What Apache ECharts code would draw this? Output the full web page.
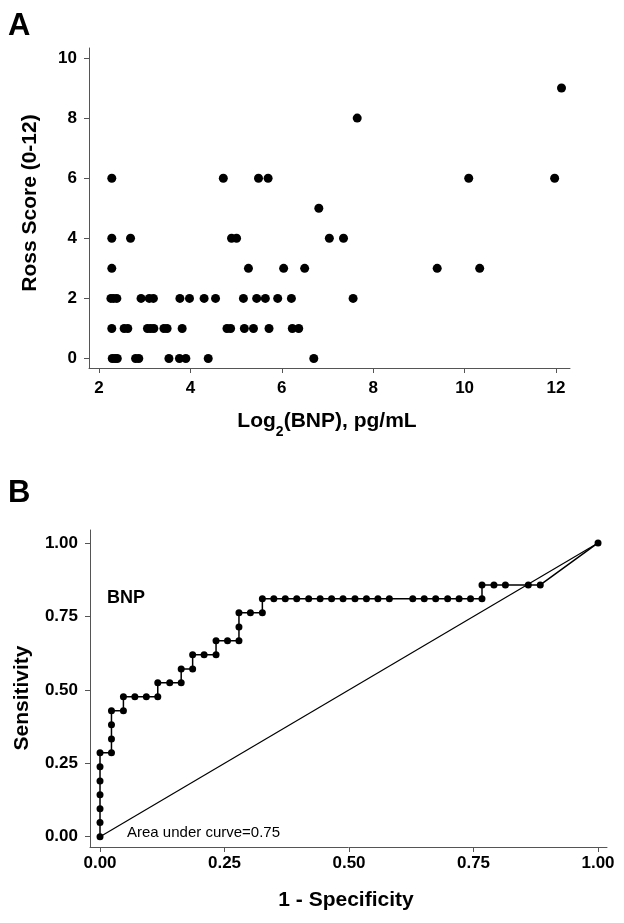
<!DOCTYPE html>
<html>
<head>
<meta charset="utf-8">
<script src="https://cdn.jsdelivr.net/npm/echarts@6/dist/echarts.min.js"></script>
<style>
html,body{margin:0;padding:0;background:#fff;}
#chart{width:624px;height:923px;}
</style>
</head>
<body>
<div id="chart"></div>
<script>
// Panel A: Log2(BNP) vs Ross score
const bnpLog2 = [
  2.29, 2.35, 2.40, 2.80, 2.87, 3.53, 3.76, 3.90, 4.39, 6.70,
  2.28, 2.55, 2.63, 3.06, 3.13, 3.20, 3.42, 3.49, 3.82, 4.80, 4.88, 5.18, 5.38, 5.72, 6.23, 6.37,
  2.26, 2.32, 2.39, 2.92, 3.10, 3.19, 3.77, 3.98, 4.30, 4.55, 5.16, 5.45, 5.64, 5.91, 6.21, 7.56,
  2.28, 5.27, 6.04, 6.50, 9.40, 10.33,
  2.28, 2.69, 4.90, 5.01, 7.04, 7.35,
  6.81,
  2.28, 4.72, 5.49, 5.70, 10.09, 11.97,
  7.65,
  12.12
];
const rossScore = [
  0, 0, 0, 0, 0, 0, 0, 0, 0, 0,
  1, 1, 1, 1, 1, 1, 1, 1, 1, 1, 1, 1, 1, 1, 1, 1,
  2, 2, 2, 2, 2, 2, 2, 2, 2, 2, 2, 2, 2, 2, 2, 2,
  3, 3, 3, 3, 3, 3,
  4, 4, 4, 4, 4, 4,
  5,
  6, 6, 6, 6, 6, 6,
  8,
  9
];
const xTicksA = [2, 4, 6, 8, 10, 12];
const yTicksA = [0, 2, 4, 6, 8, 10];

// Panel B: ROC curve for BNP
const rocFpr = [
  0, 0, 0, 0, 0, 0, 0,
  0.023, 0.023, 0.023, 0.023,
  0.047, 0.047,
  0.070, 0.093, 0.116, 0.116,
  0.140, 0.163, 0.163,
  0.186, 0.186,
  0.209, 0.233, 0.233,
  0.256, 0.279, 0.279, 0.279,
  0.302, 0.326, 0.326,
  0.349, 0.372, 0.395, 0.419, 0.442, 0.465, 0.488, 0.512, 0.535, 0.558, 0.581,
  0.628, 0.651, 0.674, 0.698, 0.721, 0.744, 0.767,
  0.767, 0.791, 0.814, 0.860, 0.884,
  1.000
];
const rocTpr = [
  0, 0.048, 0.095, 0.143, 0.190, 0.238, 0.286,
  0.286, 0.333, 0.381, 0.429,
  0.429, 0.476,
  0.476, 0.476, 0.476, 0.524,
  0.524, 0.524, 0.571,
  0.571, 0.619,
  0.619, 0.619, 0.667,
  0.667, 0.667, 0.714, 0.762,
  0.762, 0.762, 0.810,
  0.810, 0.810, 0.810, 0.810, 0.810, 0.810, 0.810, 0.810, 0.810, 0.810, 0.810,
  0.810, 0.810, 0.810, 0.810, 0.810, 0.810, 0.810,
  0.857, 0.857, 0.857, 0.857, 0.857,
  1.000
];
const refLine = [0, 1];
const ticksB = [0, 0.25, 0.5, 0.75, 1];
const aucText = 'Area under curve=0.75';

const FONT = '"Liberation Sans", Arial, Helvetica, sans-serif';
const AXC = '#555';

function axisCommon(ticks, fmt, labelMargin) {
  return {
    type: 'value',
    axisLine: { show: true, onZero: false, lineStyle: { color: AXC, width: 1 } },
    axisTick: { show: true, inside: false, length: 5, customValues: ticks, lineStyle: { color: AXC, width: 1 } },
    axisLabel: {
      show: true, customValues: ticks, margin: labelMargin,
      color: '#000', fontFamily: FONT, fontWeight: 'bold', fontSize: 17,
      formatter: fmt
    },
    splitLine: { show: false }
  };
}

const chart = echarts.init(document.getElementById('chart'), null, { renderer: 'canvas', width: 624, height: 923 });

const scatterData = bnpLog2.map((v, i) => [v, rossScore[i]]);
const rocData = rocFpr.map((v, i) => [v, rocTpr[i]]);
const refData = refLine.map(v => [v, v]);

const option = {
  animation: false,
  backgroundColor: '#fff',
  grid: [
    { left: 89, top: 48, width: 481, height: 320, outerBoundsMode: 'none', containLabel: false },
    { left: 90, top: 530, width: 517, height: 317, outerBoundsMode: 'none', containLabel: false }
  ],
  xAxis: [
    Object.assign(axisCommon(xTicksA, v => String(v), 12), { gridIndex: 0, min: 1.781, max: 12.306 }),
    Object.assign(axisCommon(ticksB, v => v.toFixed(2), 8), { gridIndex: 1, min: -0.0201, max: 1.018 })
  ],
  yAxis: [
    Object.assign(axisCommon(yTicksA, v => String(v), 12), { gridIndex: 0, min: -0.316, max: 10.333 }),
    Object.assign(axisCommon(ticksB, v => v.toFixed(2), 12), { gridIndex: 1, min: -0.035, max: 1.044 })
  ],
  series: [
    {
      type: 'scatter', xAxisIndex: 0, yAxisIndex: 0,
      data: scatterData, symbol: 'circle', symbolSize: 9,
      itemStyle: { color: '#000', opacity: 1 }
    },
    {
      type: 'line', xAxisIndex: 1, yAxisIndex: 1,
      data: refData, symbol: 'none',
      lineStyle: { color: '#000', width: 1.2 }
    },
    {
      type: 'line', xAxisIndex: 1, yAxisIndex: 1,
      data: rocData, symbol: 'circle', symbolSize: 7, showAllSymbol: true,
      lineStyle: { color: '#000', width: 1.5 },
      itemStyle: { color: '#000', opacity: 1 }
    }
  ],
  graphic: [
    { type: 'text', x: 8, y: 26, style: { text: 'A', font: 'bold 31px ' + FONT, fill: '#000', textAlign: 'left', textVerticalAlign: 'middle' } },
    { type: 'text', x: 8, y: 493, style: { text: 'B', font: 'bold 31px ' + FONT, fill: '#000', textAlign: 'left', textVerticalAlign: 'middle' } },
    {
      type: 'text', x: 327, y: 421,
      style: {
        text: '{m|Log}{s|2}{m|(BNP), pg/mL}',
        textAlign: 'center', textVerticalAlign: 'middle',
        rich: {
          m: { fontFamily: FONT, fontWeight: 'bold', fontSize: 21, lineHeight: 36, fill: '#000', verticalAlign: 'middle' },
          s: { fontFamily: FONT, fontWeight: 'bold', fontSize: 14, lineHeight: 14, fill: '#000', verticalAlign: 'bottom' }
        }
      }
    },
    { type: 'text', x: 30, y: 203, rotation: Math.PI / 2, style: { text: 'Ross Score (0-12)', font: 'bold 21px ' + FONT, fill: '#000', textAlign: 'center', textVerticalAlign: 'middle' } },
    { type: 'text', x: 346, y: 900, style: { text: '1 - Specificity', font: 'bold 21px ' + FONT, fill: '#000', textAlign: 'center', textVerticalAlign: 'middle' } },
    { type: 'text', x: 22, y: 698, rotation: Math.PI / 2, style: { text: 'Sensitivity', font: 'bold 21px ' + FONT, fill: '#000', textAlign: 'center', textVerticalAlign: 'middle' } },
    { type: 'text', x: 107, y: 598, style: { text: 'BNP', font: 'bold 18px ' + FONT, fill: '#000', textAlign: 'left', textVerticalAlign: 'middle' } },
    { type: 'text', x: 127, y: 833, style: { text: aucText, font: '15px ' + FONT, fill: '#000', textAlign: 'left', textVerticalAlign: 'middle' } }
  ]
};
chart.setOption(option);
</script>
</body>
</html>
